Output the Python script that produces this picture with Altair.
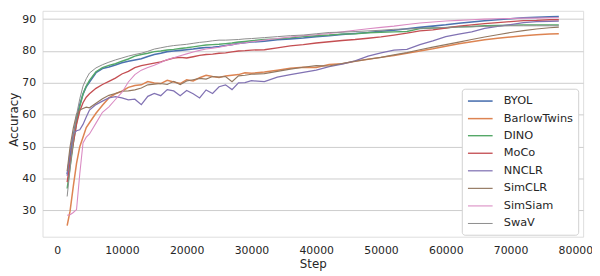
import altair as alt
import pandas as pd

STEPS = [1550, 2000, 2500, 3000, 3500, 4000, 4500, 5000, 6000, 7000,
         8000, 9000, 10000, 11000, 12000, 13000, 14000, 15000, 16000, 17000,
         18000, 19000, 20000, 21000, 22000, 23000, 24000, 25000, 26000, 27000,
         28000, 29000, 30000, 32000, 34000, 36000, 38000, 40000, 42000, 44000,
         46000, 48000, 50000, 52000, 54000, 56000, 58000, 60000, 62000, 64000,
         66000, 68000, 70000, 72000, 74000, 76000, 77450]

BYOL = [41.4, 47.0, 53.3, 59.0, 63.2, 66.5, 68.8, 70.3, 73.2, 74.5,
        75.0, 75.6, 76.3, 76.8, 77.2, 77.6, 78.3, 78.9, 79.3, 79.8,
        80.0, 80.2, 80.4, 80.6, 80.9, 81.1, 81.2, 81.4, 81.7, 82.0,
        82.4, 82.6, 82.8, 83.1, 83.5, 83.8, 84.1, 84.5, 84.8, 85.2,
        85.5, 85.8, 86.2, 86.5, 87.0, 87.4, 87.8, 88.2, 88.7, 89.1,
        89.5, 89.8, 90.1, 90.4, 90.6, 90.7, 90.8]
BARLOWTWINS = [25.3, 29.8, 37.6, 44.8, 50.0, 53.0, 56.0, 57.5, 60.5, 63.0,
               65.3, 66.6, 67.4, 68.6, 69.2, 69.4, 70.4, 70.0, 69.8, 70.8,
               70.3, 69.8, 71.0, 70.6, 71.6, 72.4, 72.0, 71.7, 72.2, 72.4,
               72.6, 73.2, 73.0, 73.4, 74.0, 74.6, 74.9, 74.8, 75.8, 76.0,
               76.8, 77.4, 78.0, 78.6, 79.3, 80.0, 80.7, 81.5, 82.3, 82.9,
               83.5, 84.0, 84.4, 84.8, 85.1, 85.3, 85.4]
DINO = [36.9, 43.5, 51.0, 57.5, 62.5, 66.5, 69.0, 70.8, 73.5, 74.8,
        75.5, 76.0, 76.8, 77.5, 78.4, 78.9, 79.3, 79.8, 80.0, 80.3,
        80.5, 80.8, 81.0, 81.3, 81.6, 81.9, 82.0, 82.1, 82.3, 82.5,
        82.8, 83.0, 83.2, 83.6, 83.8, 84.1, 84.5, 84.8, 85.0, 85.3,
        85.4, 85.7, 85.9, 86.0, 86.1, 87.0, 87.2, 87.3, 87.6, 87.7,
        87.9, 88.0, 88.1, 88.2, 88.2, 88.2, 88.2]
MOCO = [38.9, 45.0, 51.2, 57.0, 61.2, 63.8, 65.5, 66.6, 68.3, 69.5,
        70.5, 71.5, 72.8, 73.6, 74.8, 75.4, 75.8, 76.2, 76.6, 77.2,
        77.8, 78.0, 77.8, 78.2, 78.6, 78.9, 79.0, 79.3, 79.4, 79.7,
        80.0, 80.1, 80.3, 80.4, 81.0, 81.6, 82.0, 82.5, 82.9, 83.3,
        83.6, 84.0, 84.4, 85.0, 85.6, 86.3, 86.6, 87.2, 87.8, 88.2,
        88.6, 88.9, 89.2, 89.5, 89.6, 89.8, 89.8]
NNCLR = [40.9, 48.5, 54.0, 55.0, 55.3, 57.0, 59.3, 61.5, 63.2, 64.3,
         65.3, 65.7, 65.3, 64.7, 64.9, 63.2, 65.8, 66.7, 66.0, 67.9,
         67.5, 66.0, 67.6, 66.6, 65.3, 67.8, 66.7, 68.8, 69.4, 67.9,
         70.0, 70.1, 70.7, 70.4, 71.8, 72.6, 73.3, 74.0, 75.1, 75.9,
         76.9, 78.4, 79.4, 80.3, 80.5, 82.0, 83.2, 84.5, 85.3, 86.0,
         87.1, 87.7, 88.3, 88.9, 89.2, 89.3, 89.4]
SIMCLR = [42.4, 50.0, 55.8, 60.2, 61.5, 62.0, 62.4, 62.2, 63.6, 65.0,
          66.1, 66.7, 67.4, 67.5, 67.8, 68.4, 69.4, 69.6, 69.8, 69.5,
          70.5, 69.5, 70.6, 71.0, 71.4, 71.2, 72.0, 71.8, 72.0, 70.4,
          72.2, 72.4, 72.7, 72.9, 73.6, 74.3, 74.9, 75.4, 75.3, 76.1,
          76.8, 77.4, 78.0, 78.8, 79.5, 80.4, 81.2, 82.0, 82.8, 83.6,
          84.4, 85.1, 85.8, 86.4, 86.9, 87.3, 87.5]
SIMSIAM = [28.5, 28.7, 29.4, 30.3, 41.5, 51.2, 53.0, 54.0, 57.4, 60.8,
           62.5, 64.8, 67.0, 70.3, 72.6, 74.0, 74.8, 75.5, 76.4, 77.3,
           77.9, 78.5, 79.1, 79.7, 80.2, 80.6, 80.9, 81.2, 81.6, 82.0,
           82.3, 82.6, 82.9, 83.4, 83.9, 84.4, 84.8, 85.1, 85.5, 86.0,
           86.5, 87.0, 87.4, 87.8, 88.3, 88.8, 89.1, 89.4, 89.6, 89.8,
           90.0, 90.1, 90.2, 90.3, 90.3, 90.4, 90.4]
SWAV = [34.4, 43.0, 52.5, 60.0, 65.0, 69.0, 71.3, 73.1, 74.7, 75.7,
        76.5, 77.2, 77.8, 78.4, 78.9, 79.3, 79.9, 80.6, 81.0, 81.4,
        81.7, 81.9, 82.1, 82.4, 82.7, 82.9, 83.2, 83.4, 83.4, 83.5,
        83.6, 83.8, 83.9, 84.2, 84.5, 84.8, 85.0, 85.4, 85.8, 85.9,
        86.1, 86.3, 86.5, 86.8, 86.9, 87.1, 87.2, 87.4, 87.5, 87.6,
        87.7, 87.8, 87.9, 87.9, 87.9, 87.9, 87.9]

METHODS = ["BYOL", "BarlowTwins", "DINO", "MoCo", "NNCLR", "SimCLR", "SimSiam", "SwaV"]
SERIES = [BYOL, BARLOWTWINS, DINO, MOCO, NNCLR, SIMCLR, SIMSIAM, SWAV]
COLORS = ["#4c72b0", "#dd8452", "#55a868", "#c44e52", "#8172b3", "#937860", "#da8bc3", "#8c8c8c"]
WIDTHS = [1.6, 1.0, 1.6, 1.6, 1.0, 1.6, 1.0, 1.6]
X_TICKS = [0, 10000, 20000, 30000, 40000, 50000, 60000, 70000, 80000]
Y_TICKS = [30, 40, 50, 60, 70, 80, 90]

rows = []
for order, (name, vals) in enumerate(zip(METHODS, SERIES)):
    for s, v in zip(STEPS, vals):
        rows.append({"Method": name, "Step": s, "Accuracy": v, "order": order})
df = pd.DataFrame(rows)

TXT = "#262626"
FONT = "DejaVu Sans"

legend = alt.Legend(title=None, orient="none", legendX=425, legendY=79,
                    fillColor="white", strokeColor="#d0d0d0", cornerRadius=3,
                    padding=5, labelFont=FONT, labelFontSize=11.5,
                    labelColor=TXT, symbolType="M-1,0H3", symbolSize=156.25,
                    labelOffset=22.5, rowPadding=4.8)

chart = alt.Chart(df).mark_line(interpolate="linear").encode(
    x=alt.X("Step:Q",
            scale=alt.Scale(domain=[-2250, 81200], nice=False, zero=False),
            axis=alt.Axis(values=X_TICKS, format="d", grid=False, ticks=False,
                          domain=False, labelFontSize=11, labelColor=TXT,
                          labelPadding=8.5, labelFont=FONT, titleFont=FONT,
                          titleFontSize=12, titleColor=TXT, titleFontWeight="normal",
                          titleY=22.5, titleBaseline="top")),
    y=alt.Y("Accuracy:Q",
            scale=alt.Scale(domain=[21.8, 92.6], nice=False, zero=False),
            axis=alt.Axis(values=Y_TICKS, grid=True, gridColor="#cccccc",
                          gridWidth=1, ticks=False, domain=False,
                          labelFontSize=11, labelColor=TXT, labelPadding=7,
                          labelFont=FONT, titleFont=FONT, titleFontSize=12,
                          titleColor=TXT, titleFontWeight="normal",
                          titleX=-22, titleY=110)),
    color=alt.Color("Method:N",
                    scale=alt.Scale(domain=METHODS, range=COLORS),
                    legend=legend),
    strokeWidth=alt.StrokeWidth("Method:N",
                                scale=alt.Scale(domain=METHODS, range=WIDTHS),
                                legend=legend),
    order=alt.Order("order:Q"),
).properties(
    width=548,
    height=229,
    autosize=alt.AutoSizeParams(type="none"),
    padding={"left": 35, "top": 1, "right": 9, "bottom": 38},
).configure_view(
    stroke="#cccccc", strokeWidth=1
).configure(background="white")

chart.save("out.html", embed_options={"renderer": "svg", "actions": False})
